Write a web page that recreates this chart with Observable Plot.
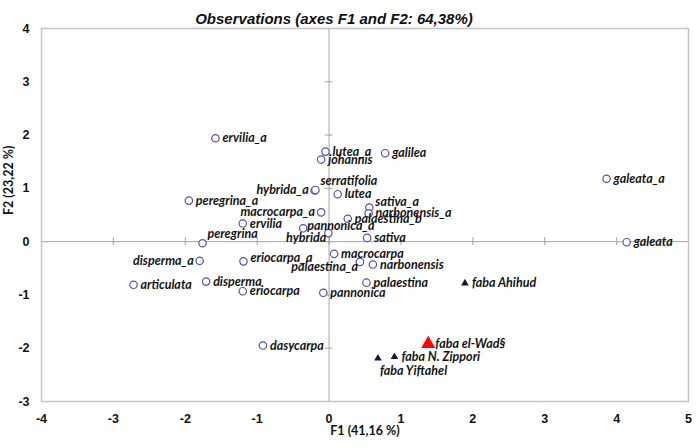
<!DOCTYPE html>
<html><head><meta charset="utf-8">
<script src="https://cdn.jsdelivr.net/npm/d3@7"></script>
<script src="https://cdn.jsdelivr.net/npm/@observablehq/plot@0.6"></script>
<style>
body{margin:0;background:#fff;}
#chart svg{display:block;}
</style></head><body><div id="chart"></div>
<script>
// ---- data ----
const names = ["ervilia_a","lutea_a","johannis","galilea","hybrida_a","serratifolia","lutea","peregrina_a","macrocarpa_a","ervilia","pannonica_a","hybrida","sativa_a","narbonensis_a","palaestina_b","sativa","peregrina","disperma_a","eriocarpa_a","macrocarpa","palaestina_a","narbonensis","articulata","disperma","eriocarpa","dasycarpa","palaestina","pannonica","galeata_a","galeata","faba Ahihud","faba el-Wad§","faba N. Zippori","faba Yiftahel"];
const f1 = [-1.58,-0.05,-0.11,0.78,-0.20,-0.19,0.12,-1.95,-0.11,-1.20,-0.36,-0.01,0.56,0.55,0.26,0.53,-1.76,-1.80,-1.19,0.07,0.43,0.61,-2.72,-1.71,-1.20,-0.92,0.52,-0.08,3.86,4.14,1.89,1.38,0.91,0.68];
const f2 = [1.94,1.69,1.54,1.66,0.96,0.97,0.89,0.77,0.55,0.34,0.25,0.16,0.64,0.53,0.43,0.07,-0.03,-0.36,-0.37,-0.23,-0.38,-0.43,-0.81,-0.75,-0.93,-1.95,-0.77,-0.96,1.18,-0.01,-0.78,-1.92,-2.16,-2.19];
const groups = ["wild","wild","wild","wild","wild","wild","wild","wild","wild","wild","wild","wild","wild","wild","wild","wild","wild","wild","wild","wild","wild","wild","wild","wild","wild","wild","wild","wild","wild","wild","faba","focus","faba","faba"];
const xTicks = [-4,-3,-2,-1,0,1,2,3,4,5];
const yTicks = [-3,-2,-1,0,1,2,3,4];
const title = "Observations (axes F1 and F2: 64,38%)";
const xTitle = "F1 (41,16 %)";
const yTitle = "F2 (23,22 %)";

// ---- label placement (layout only) ----
const placements = {
  right:     {anchor:"start", dx:7,  dy:0},
  left:      {anchor:"end",   dx:-6, dy:0},
  above:     {anchor:"start", dx:5,  dy:-9},
  leftBelow: {anchor:"end",   dx:-2, dy:5},
  rightUp:   {anchor:"start", dx:6,  dy:-6},
  rightUp2:  {anchor:"start", dx:7,  dy:-3},
  rightNear: {anchor:"start", dx:4,  dy:-2},
  below:     {anchor:"start", dx:2,  dy:13}
};
const placeOf = {
  "hybrida_a":"left","macrocarpa_a":"left","disperma_a":"left",
  "serratifolia":"above","peregrina":"above",
  "hybrida":"leftBelow","palaestina_a":"leftBelow",
  "sativa_a":"rightUp","eriocarpa_a":"rightUp2","pannonica_a":"rightNear",
  "faba Yiftahel":"below"
};

const rows = names.map((n,i)=>({name:n, f1:f1[i], f2:f2[i], group:groups[i], place: placeOf[n] || "right"}));

const labelFont = {fontFamily:"Lato, 'Open Sans', sans-serif", fontStyle:"italic", fontWeight:"bold", fontSize:12.5, fill:"#141414"};

const labelMarks = Object.entries(placements).map(([key,p]) =>
  Plot.text(rows.filter(d=>d.place===key), {x:"f1", y:"f2", text:"name", textAnchor:p.anchor, dx:p.dx, dy:p.dy, ...labelFont})
);

const chart = Plot.plot({
  width: 697, height: 448,
  marginLeft: 41, marginRight: 9, marginTop: 28, marginBottom: 47,
  style: {fontFamily:"'Liberation Sans', Arial, sans-serif", fontSize:"12.5px", fontWeight:"bold", color:"#111", background:"#fff"},
  x: {domain:[-4,5], ticks:xTicks, tickSize:0, tickPadding:13, tickFormat:d=>String(d), label:null},
  y: {domain:[-3,4], ticks:yTicks, tickSize:0, tickPadding:12, tickFormat:d=>String(d), label:null},
  marks: [
    Plot.ruleX([0], {stroke:"#a6a6a6", strokeWidth:1}),
    Plot.ruleY([0], {stroke:"#a6a6a6", strokeWidth:1}),
    Plot.ruleX(xTicks, {x:d=>d, y1:0, y2:0, insetTop:-4, insetBottom:-4, stroke:"#a6a6a6"}),
    Plot.ruleY(yTicks, {y:d=>d, x1:0, x2:0, insetLeft:-4, insetRight:-4, stroke:"#a6a6a6"}),
    Plot.frame({stroke:"#c4c4c4", strokeWidth:1.5}),
    Plot.dot(rows.filter(d=>d.group==="wild"), {x:"f1", y:"f2", r:3.7, stroke:"#5252ae", fill:"#fff", strokeWidth:1.2}),
    Plot.dot(rows.filter(d=>d.group==="faba"), {x:"f1", y:"f2", symbol:"triangle", r:2.8, fill:"#16163f", stroke:"none"}),
    Plot.dot(rows.filter(d=>d.group==="focus"), {x:"f1", y:"f2", symbol:"triangle", r:5.2, fill:"#ff0000", stroke:"none"}),
    ...labelMarks,
    Plot.text([title], {frameAnchor:"top", dy:-15, dx:-31, text:d=>d, fontFamily:"'Liberation Sans', Arial, sans-serif", fontStyle:"italic", fontWeight:"bold", fontSize:15, fill:"#111"}),
    Plot.text([xTitle], {frameAnchor:"bottom", dy:33, text:d=>d, fontFamily:"Lato, sans-serif", fontWeight:"bold", fontSize:12.5, fill:"#111"}),
    Plot.text([yTitle], {frameAnchor:"left", dx:-33, rotate:-90, text:d=>d, fontFamily:"Lato, sans-serif", fontWeight:"bold", fontSize:12.5, fill:"#111"})
  ]
});
document.getElementById("chart").append(chart);
</script></body></html>
